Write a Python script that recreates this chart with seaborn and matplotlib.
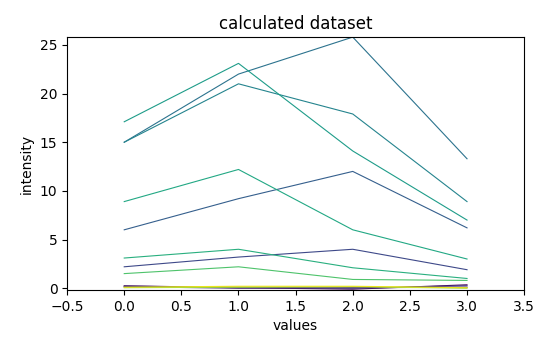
import matplotlib
matplotlib.use("Agg")
import matplotlib.pyplot as plt
import seaborn as sns
import pandas as pd
import numpy as np

x_values = [0, 1, 2, 3]
series_names = ["A", "B", "C", "D", "E", "F", "G", "H", "I", "J", "K", "L", "M"]
series_hue = [0.38, 0.55, 0.45, 0.30, 0.60, 0.63, 0.22, 0.72, 0.97, 0.02, 0.10, 0.85, 0.15]
series_values = [
    [15.0, 22.0, 25.8, 13.3],
    [17.1, 23.1, 14.1, 7.0],
    [15.0, 21.0, 17.9, 8.9],
    [6.0, 9.2, 12.0, 6.2],
    [8.9, 12.2, 6.0, 3.0],
    [3.1, 4.0, 2.1, 1.0],
    [2.2, 3.2, 4.0, 1.9],
    [1.5, 2.2, 0.9, 0.8],
    [0.10, 0.20, 0.20, 0.05],
    [0.25, 0.05, -0.10, 0.35],
    [0.15, 0.00, 0.05, 0.10],
    [0.05, 0.10, 0.15, 0.00],
    [0.20, 0.10, 0.00, 0.25],
]

rows = []
for name, h, vals in zip(series_names, series_hue, series_values):
    for xv, yv in zip(x_values, vals):
        rows.append({"series": name, "hue": h, "values": xv, "intensity": yv})
df = pd.DataFrame(rows)

fig, ax = plt.subplots(figsize=(5.5, 3.5), dpi=100)
sns.lineplot(data=df, x="values", y="intensity", hue="hue", units="series",
             estimator=None, palette="viridis", hue_norm=(0, 1),
             linewidth=0.8, legend=False, ax=ax)
ax.set_xlim(-0.5, 3.5)
ax.set_ylim(-0.2, 25.8)
ax.set_title("calculated dataset")
ax.set_xlabel("values")
ax.set_ylabel("intensity")
fig.subplots_adjust(left=0.122, right=0.953, top=0.894, bottom=0.171)
fig.savefig("out.png", dpi=100)
